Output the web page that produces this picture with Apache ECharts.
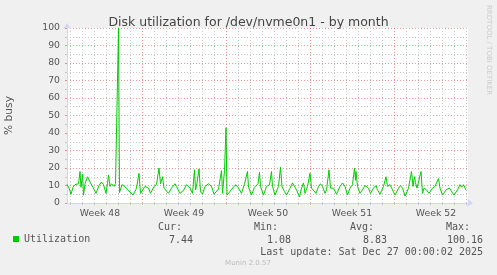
<!DOCTYPE html>
<html><head><meta charset="utf-8">
<script src="https://cdn.jsdelivr.net/npm/echarts@6/dist/echarts.min.js"></script>
<style>html,body{margin:0;padding:0;background:#f0f0f0;}#c{width:497px;height:275px;}</style>
</head><body><div id="c"></div>
<script>
// Hours since the left edge of the month window (2-hour RRD resolution)
const hours = [0,4,8,12,16,23,26,28,31,33,36,41,46,52,58,64,69,73,78,81,83,86,89,94,97,101,103,105,106,110,115,122,126,132,139,144,147,149,156,163,167,174,179,184,187,191,194,198,203,209,216,219,226,234,239,246,251,255,257,259,264,267,271,276,283,289,294,303,309,311,315,318,320,323,330,337,342,349,355,361,363,369,375,382,385,387,393,399,405,409,411,416,423,427,430,435,439,446,451,455,459,465,469,473,476,481,486,489,493,498,503,507,511,516,519,524,527,533,539,546,551,556,561,566,571,575,577,578,581,586,593,596,603,607,613,618,621,626,633,638,641,646,651,656,663,667,671,676,683,689,692,695,697,700,704,708,711,714,719,724,731,736,739,743,746,751,758,765,769,774,781,786,789,793,798];
// % busy
const busy = [10.7,8.5,5,9,10.5,11,18,9,16.5,4.5,11,15,12,9,5.5,10,12,10.5,5.5,11,16,9.5,11,9.5,11,10,100.16,6,5.5,10.5,9.5,7.5,8,4.5,8.5,17,5.5,6,9.5,8.5,5.5,9.5,10.5,20,11,15,8.5,9.5,5.5,8.5,11,9.5,5.5,7.5,10.5,8.5,5.5,19,7.5,9.5,19.5,6.5,5,9.5,11,9.5,5,8,18.5,5.5,18.5,43,4.5,3.5,8,10.5,9,5.5,11,18,9,4.5,9,11,17.5,9.5,4.5,9.5,10.5,18,9.5,4.5,9.5,20.5,9.5,6.5,4.5,8.5,11.5,11.5,7.5,3.5,8.5,11.5,5.5,9.5,17,8.5,8.5,5.5,9.5,11,9.5,5.5,7.5,19,8.5,8.5,5,9.5,11.5,9.5,4.5,8.5,10.5,20,13,18,9.5,5.5,8.5,10,8.5,5.5,8.5,10,7.5,5,9.5,15,9.5,10.5,7.5,4.5,8.5,10,8.5,4,8.5,18,9.5,15,11.5,8.5,8.5,18,5.5,8.5,7.5,5.5,8.5,9.5,8.5,14,8.5,4.5,7.5,8.5,7.5,4.5,7.5,10.5,9,10.5,7.44];
const windowHours = 802;          // span of the graph
const slotCount = 402;            // 2-hour slots
const firstDaySlot = 3, slotsPerDay = 12;
const firstWeekSlot = 75, slotsPerWeek = 84;
const firstLabelSlot = 33;
const weekLabels = ['Week 48','Week 49','Week 50','Week 51','Week 52'];
const seriesName = 'Utilization';
const statNames = ['Cur:','Min:','Avg:','Max:'];
const statValues = ['7.44','1.08','8.83','100.16'];
const lastUpdate = 'Last update: Sat Dec 27 00:00:02 2025';
const titleText = 'Disk utilization for /dev/nvme0n1 - by month';

const slots = Array.from({length: slotCount}, (_, i) => String(i));
const labelAt = {};
weekLabels.forEach((w, k) => { labelAt[firstLabelSlot + k * slotsPerWeek] = w; });
const isDay = i => i >= firstDaySlot && (i - firstDaySlot) % slotsPerDay === 0;
const isWeek = i => i >= firstWeekSlot && (i - firstWeekSlot) % slotsPerWeek === 0;

const SANS = 'DejaVu Sans', MONO = 'DejaVu Sans Mono';
const TXT = '#555';
const AXIS = '#cfd6f8';
const MGRID = 'rgba(225,80,80,0.6)';
const GRID = '#c8c8c8';

const chart = echarts.init(document.getElementById('c'), null, {renderer: 'canvas'});
const statX = [182, 278, 374, 470];
const valX = [193, 291, 387, 483];
const graphics = [];
statNames.forEach((s, i) => graphics.push({type: 'text', x: statX[i], y: 227.5, style: {text: s, font: '10px ' + MONO, fill: TXT, textAlign: 'right', textVerticalAlign: 'middle'}}));
statValues.forEach((s, i) => graphics.push({type: 'text', x: valX[i], y: 240, style: {text: s, font: '10px ' + MONO, fill: TXT, textAlign: 'right', textVerticalAlign: 'middle'}}));
graphics.push({type: 'text', x: 483, y: 252, style: {text: lastUpdate, font: '10px ' + MONO, fill: TXT, textAlign: 'right', textVerticalAlign: 'middle'}});
graphics.push({type: 'text', x: 248, y: 263.5, style: {text: 'Munin 2.0.57', font: '7px ' + SANS, fill: '#bbbbbb', textAlign: 'center', textVerticalAlign: 'middle'}});
graphics.push({type: 'text', x: 488.5, y: 5, rotation: -Math.PI / 2, style: {text: 'RRDTOOL / TOBI OETIKER', font: '7px ' + SANS, fill: '#cccccc', textAlign: 'left', textVerticalAlign: 'middle'}});

chart.setOption({
  backgroundColor: '#f0f0f0',
  animation: false,
  title: {text: titleText, left: 'center', top: 11, textStyle: {fontFamily: SANS, fontSize: 12.5, fontWeight: 'normal', color: '#444'}},
  grid: {left: 67, top: 28, width: 401, height: 175, show: true, backgroundColor: '#fff', borderWidth: 0,
    containLabel: false, outerBoundsMode: 'none'},
  legend: {show: true, left: 13, top: 234, icon: 'rect', itemWidth: 6, itemHeight: 6, itemGap: 0, padding: 0,
    textStyle: {fontFamily: MONO, fontSize: 10, color: TXT}, data: [seriesName]},
  xAxis: [
    {type: 'category', data: slots, boundaryGap: false, position: 'bottom',
      axisLine: {show: true, lineStyle: {color: AXIS, width: 1}, symbol: ['none', 'arrow'], symbolSize: [6, 6], symbolOffset: [0, 5]},
      axisTick: {show: true, inside: false, length: 2, interval: (i) => isDay(i), lineStyle: {color: GRID}},
      axisLabel: {interval: (i) => labelAt[i] !== undefined, formatter: (v) => labelAt[+v] || '', margin: 6, fontFamily: SANS, fontSize: 9.3, color: TXT},
      splitLine: {show: true, interval: (i) => isDay(i) && !isWeek(i), lineStyle: {color: GRID, type: [1, 2], width: 1}}},
    {type: 'category', data: slots, boundaryGap: false, position: 'top',
      axisLine: {show: false}, axisTick: {show: false}, axisLabel: {show: false},
      splitLine: {show: true, interval: (i) => isWeek(i), lineStyle: {color: MGRID, type: [1, 2], width: 1}}},
    {type: 'value', min: 0, max: windowHours, show: false, splitLine: {show: false}}
  ],
  yAxis: {type: 'value', min: 0, max: 100, interval: 10,
    name: '% busy', nameLocation: 'middle', nameGap: 52, nameTextStyle: {fontFamily: SANS, fontSize: 10.7, color: TXT},
    axisLine: {show: true, lineStyle: {color: AXIS}, symbol: ['none', 'arrow'], symbolSize: [6, 6], symbolOffset: [0, 5]},
    axisTick: {show: true, length: 2, lineStyle: {color: MGRID}},
    minorTick: {show: true, splitNumber: 2, length: 2, lineStyle: {color: GRID}},
    axisLabel: {margin: 7, fontFamily: SANS, fontSize: 9.3, color: TXT},
    splitLine: {show: true, lineStyle: {color: MGRID, type: [1, 2], width: 1}},
    minorSplitLine: {show: true, lineStyle: {color: GRID, type: [1, 2], width: 1}}},
  series: [{
    name: seriesName, type: 'line', xAxisIndex: 2, showSymbol: false, symbol: 'none',
    lineStyle: {color: '#00cc00', width: 1}, itemStyle: {color: '#00cc00'},
    data: hours.map((h, i) => [h, busy[i]]), z: 5
  }],
  graphic: graphics
});
</script></body></html>
